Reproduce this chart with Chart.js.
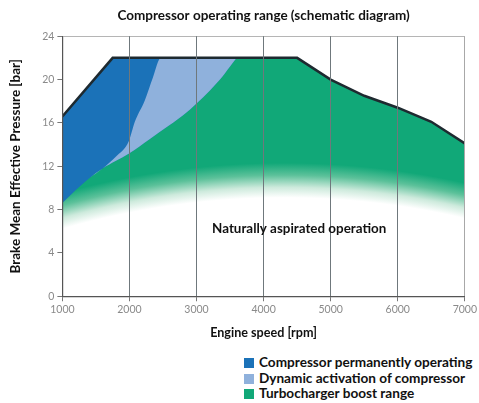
<!DOCTYPE html>
<html>
<head>
<meta charset="utf-8">
<script src="https://cdn.jsdelivr.net/npm/chart.js@4.4.1/dist/chart.umd.min.js"></script>
<style>
  html, body { margin: 0; padding: 0; background: #fff; }
  #wrap { position: relative; width: 479px; height: 403px; }
  #box { position: absolute; left: 0; top: 0; width: 479px; height: 345px; }
  .leg { position: absolute; left: 244px; height: 14px; font: bold 13.6px Lato, sans-serif; color: #111; line-height: 14px; white-space: nowrap; }
  .leg span { display: inline-block; width: 10px; height: 10px; vertical-align: -1px; margin-right: 5px; }
</style>
</head>
<body>
<div id="wrap">
  <div id="box"><canvas id="c"></canvas></div>
  <div id="legend"></div>
</div>
<script>
// ---- data ----
const xTicks = [1000, 2000, 3000, 4000, 5000, 6000, 7000];
const yTicks = [0, 4, 8, 12, 16, 20, 24];

// upper envelope of the operating range
const envelopeRpm = [1000, 1750, 4500, 5000, 5500, 6000, 6500, 7000];
const envelopeBar = [16.6, 22, 22, 20, 18.5, 17.4, 16.1, 14.1];

// upper edge of "dynamic activation of compressor" (boundary to dark blue)
const dynamicRpm = [1000, 1200, 1400, 1600, 1800, 1990, 2080, 2230, 2350, 2470, 3600];
const dynamicBar = [8.6, 9.8, 10.9, 11.8, 12.9, 14.3, 16.1, 18.1, 20.2, 22, 22];

// upper edge of "turbocharger boost range"
const turboRpm = [1000, 1200, 1400, 1600, 1800, 2000, 2300, 2600, 2800, 3000, 3200, 3350, 3500, 3600];
const turboBar = [8.6, 9.8, 10.9, 11.8, 12.5, 13.2, 14.5, 15.8, 16.7, 17.8, 19.0, 20.0, 21.2, 22];

const labels = ['Compressor permanently operating', 'Dynamic activation of compressor', 'Turbocharger boost range'];
const colors = ['#1b72b8', '#8fb1dc', '#11a878'];

const naText = 'Naturally aspirated operation';
const naRpm = 4530, naBar = 6.2;

// fade of the boost range into naturally aspirated operation
const fadeCenterRpm = 4300, fadeEndBar = 9.1, fadeStartBar = 12.3;

function pts(xs, ys) { return xs.map((x, i) => ({ x: x, y: ys[i] })); }

function fadeFill(context) {
  const chart = context.chart;
  const area = chart.chartArea;
  if (!area) return colors[2];
  const xs = chart.scales.x, ys = chart.scales.y;
  const R = 800;
  const cx = xs.getPixelForValue(fadeCenterRpm);
  const yEnd = ys.getPixelForValue(fadeEndBar);
  const band = yEnd - ys.getPixelForValue(fadeStartBar);
  const cy = yEnd + R;
  const g = chart.ctx.createRadialGradient(cx, cy, R, cx, cy, R + band);
  g.addColorStop(0, '#ffffff');
  g.addColorStop(0.3, '#cdeadc');
  g.addColorStop(0.65, '#5cc19a');
  g.addColorStop(1, colors[2]);
  return g;
}

const textPlugin = {
  id: 'naText',
  afterDraw(chart) {
    const ctx = chart.ctx;
    const x = chart.scales.x.getPixelForValue(naRpm);
    const y = chart.scales.y.getPixelForValue(naBar);
    ctx.save();
    ctx.font = 'bold 13.4px Lato, sans-serif';
    ctx.fillStyle = '#111';
    ctx.textAlign = 'center';
    ctx.textBaseline = 'middle';
    ctx.fillText(naText, x, y);
    ctx.restore();
  }
};

const base = { pointRadius: 0, pointHoverRadius: 0, borderWidth: 0, tension: 0 };

new Chart(document.getElementById('c'), {
  type: 'line',
  data: {
    datasets: [
      Object.assign({}, base, { label: 'outline', data: pts(envelopeRpm, envelopeBar), borderColor: '#1e2a30', borderWidth: 2.5, fill: false }),
      Object.assign({}, base, { label: labels[1], data: pts(dynamicRpm, dynamicBar), backgroundColor: colors[1], fill: 2, cubicInterpolationMode: 'monotone' }),
      Object.assign({}, base, { label: 'turboEdge', data: pts(turboRpm, turboBar), fill: false, cubicInterpolationMode: 'monotone' }),
      Object.assign({}, base, { label: labels[0], data: pts(envelopeRpm, envelopeBar), backgroundColor: colors[0], fill: 2 }),
      Object.assign({}, base, { label: labels[2], data: pts(envelopeRpm, envelopeBar), backgroundColor: fadeFill, fill: 'origin' })
    ]
  },
  options: {
    responsive: true,
    maintainAspectRatio: false,
    animation: false,
    events: [],
    layout: { padding: { left: 8, right: 6, top: 0, bottom: 5 } },
    plugins: {
      legend: { display: false },
      tooltip: { enabled: false },
      title: {
        display: true,
        fullSize: false,
        text: 'Compressor operating range (schematic diagram)',
        color: '#111',
        font: { family: 'Lato', size: 13.5, weight: 'bold' },
        padding: { top: 8, bottom: 12 }
      }
    },
    scales: {
      x: {
        type: 'linear', min: 1000, max: 7000,
        afterBuildTicks: (s) => { s.ticks = xTicks.map(v => ({ value: v })); },
        ticks: { color: '#8a8a8a', font: { family: 'Lato', size: 10.5 }, padding: 2, callback: (v) => String(v) },
        grid: {
          z: 1,
          color: (c) => c.tick && c.tick.value === 7000 ? '#a8a8a8' : (c.tick && c.tick.value === 1000 ? 'transparent' : '#6f787c'),
          tickColor: '#777', tickLength: 5, lineWidth: 1
        },
        border: { color: '#555', width: 1.2, z: 1 },
        title: { display: true, text: 'Engine speed [rpm]', color: '#111', font: { family: 'Lato', size: 12.6, weight: 'bold' }, padding: { top: 7, bottom: 0 } }
      },
      y: {
        min: 0, max: 24,
        afterBuildTicks: (s) => { s.ticks = yTicks.map(v => ({ value: v })); },
        ticks: { color: '#8a8a8a', font: { family: 'Lato', size: 10.5 }, padding: 3, callback: (v) => String(v) },
        grid: {
          color: (c) => c.tick && c.tick.value === 24 ? '#b5b5b5' : 'transparent',
          tickColor: '#777', tickLength: 5
        },
        border: { color: '#555', width: 1.2, z: 1 },
        title: { display: true, text: 'Brake Mean Effective Pressure [bar]', color: '#111', font: { family: 'Lato', size: 13.5, weight: 'bold' }, padding: { top: 0, bottom: 15 } }
      }
    }
  },
  plugins: [textPlugin]
});

// HTML legend
const legendTops = [355, 371, 386];
const legendEl = document.getElementById('legend');
[0, 1, 2].forEach((k, i) => {
  const d = document.createElement('div');
  d.className = 'leg';
  d.style.top = legendTops[i] + 'px';
  const sw = document.createElement('span');
  sw.style.background = colors[k];
  d.appendChild(sw);
  d.appendChild(document.createTextNode(labels[k]));
  legendEl.appendChild(d);
});
</script>
</body>
</html>
